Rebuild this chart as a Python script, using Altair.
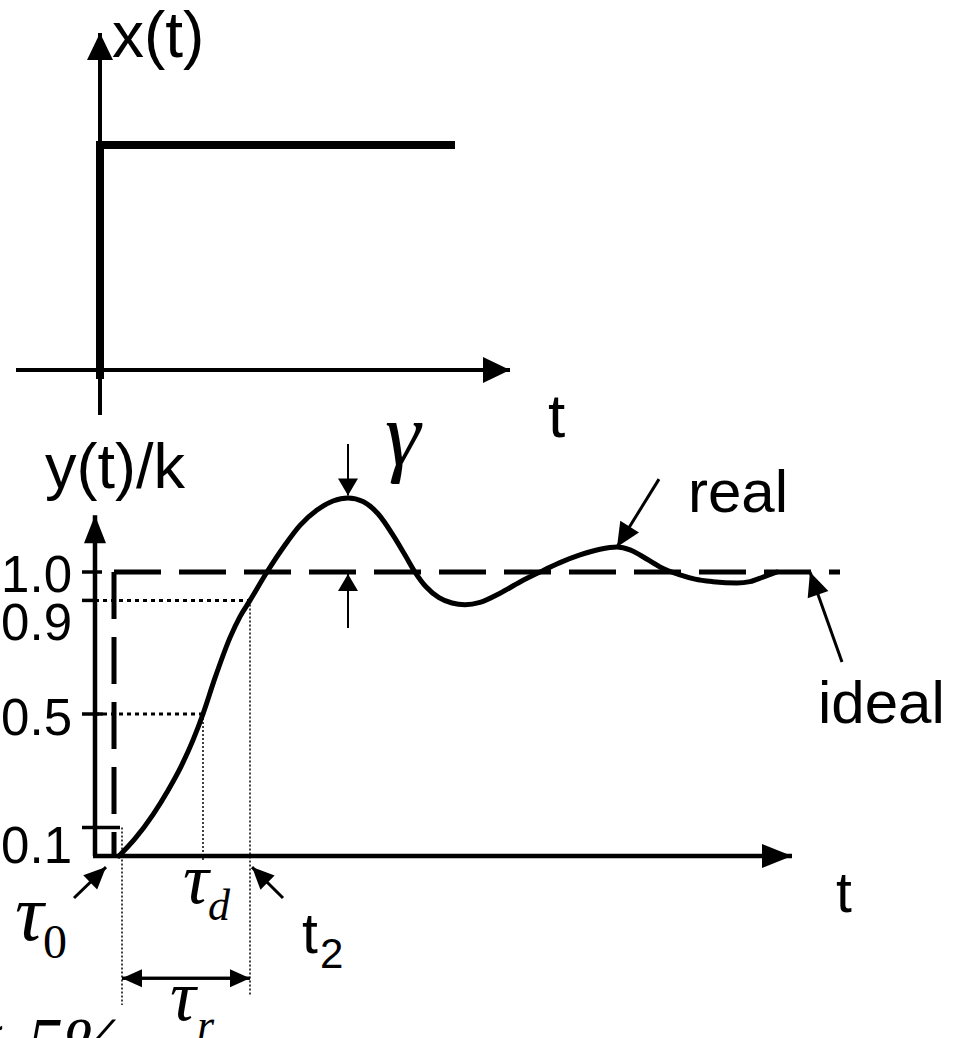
import math
import altair as alt
import pandas as pd

W, H = 954, 1038

# ---------------- upper diagram: input step x(t) ----------------
TOP_T = [-2.0, 17.08]          # time range spanned by the canvas width
TOP_V = [-2.9689, 1.6444]      # x(t) range spanned by the canvas height

step_t = [0.0, 0.0, 7.1]
step_v = [-0.04, 1.0, 1.0]

# ---------------- lower diagram: normalised response y(t)/k ----------------
BOT_T = [-1.9, 17.18]
BOT_V = [-0.6408, 3.0141]

real_t = [0.48, 0.80, 1.16, 1.46, 1.72, 1.96, 2.16, 2.40, 2.70, 2.90, 3.10,
          3.44, 3.80, 4.10, 4.44, 4.76, 5.06, 5.36, 5.66, 5.96, 6.20, 6.40,
          6.62, 6.88, 7.14, 7.40, 7.70, 8.10, 8.50, 8.90, 9.30, 9.70, 10.10,
          10.44, 10.70, 10.90, 11.30, 11.70, 12.00, 12.36, 12.84, 13.10,
          13.36, 13.64]
real_v = [0.00, 0.061, 0.146, 0.231, 0.315, 0.408, 0.50, 0.627, 0.769, 0.843,
          0.90, 1.00, 1.095, 1.164, 1.218, 1.25, 1.261, 1.248, 1.205, 1.13,
          1.06, 1.00, 0.948, 0.91, 0.891, 0.885, 0.893, 0.925, 0.965, 1.00,
          1.033, 1.06, 1.08, 1.088, 1.078, 1.06, 1.018, 0.99, 0.975, 0.966,
          0.961, 0.966, 0.982, 1.00]

ideal_start = 0.38    # instant of the ideal step
ideal_end = 14.9

tick_values = [0.1, 0.5, 0.9, 1.0]
tick_labels = ["0.1", "0.5", "0.9", "1.0"]

tau0 = 0.54     # 10 % point
tau_d = 2.16    # 50 % point
t2 = 3.10       # 90 % point
peak_t, peak_v = 5.06, 1.261

PX_T = W / (TOP_T[1] - TOP_T[0])
PX_V = {"top": H / (TOP_V[1] - TOP_V[0]), "bot": H / (BOT_V[1] - BOT_V[0])}


def scales(panel):
    dom_t, dom_v = (TOP_T, TOP_V) if panel == "top" else (BOT_T, BOT_V)
    return (alt.Scale(domain=dom_t, nice=False, zero=False),
            alt.Scale(domain=dom_v, nice=False, zero=False))


def segments(rows, panel, width, dash=None, cap="butt"):
    df = pd.DataFrame(rows, columns=["t0", "v0", "t1", "v1"])
    sx, sy = scales(panel)
    kw = dict(color="black", strokeWidth=width, strokeCap=cap)
    if dash:
        kw["strokeDash"] = dash
    return alt.Chart(df).mark_rule(**kw).encode(
        x=alt.X("t0:Q", scale=sx, axis=None), x2="t1:Q",
        y=alt.Y("v0:Q", scale=sy, axis=None), y2="v1:Q")


def heads(rows, panel, length, half):
    """Filled arrowheads whose tip sits on (t1, v1), pointing away from (t0, v0)."""
    recs = []
    for t0, v0, t1, v1 in rows:
        dx = (t1 - t0) * PX_T
        dy = -(v1 - v0) * PX_V[panel]
        recs.append({"t": t1, "v": v1,
                     "ang": math.degrees(math.atan2(dx, -dy)) % 360})
    w = half / length
    shape = f"M0,0L{-w:.3f},1L{w:.3f},1Z"
    sx, sy = scales(panel)
    return alt.Chart(pd.DataFrame(recs)).mark_point(
        shape=shape, filled=True, size=(2 * length) ** 2, color="black",
        opacity=1, strokeWidth=0).encode(
        x=alt.X("t:Q", scale=sx, axis=None),
        y=alt.Y("v:Q", scale=sy, axis=None),
        angle=alt.Angle("ang:Q", scale=None))


def arrows(rows, panel, width, length, half):
    return [segments(rows, panel, width), heads(rows, panel, length, half)]


def labels(texts, ts, vs, panel, size, font="Liberation Sans",
           style="normal", align="left"):
    df = pd.DataFrame({"txt": texts, "t": ts, "v": vs})
    sx, sy = scales(panel)
    return alt.Chart(df).mark_text(
        font=font, fontSize=size, fontStyle=style, align=align,
        baseline="alphabetic", color="black").encode(
        x=alt.X("t:Q", scale=sx, axis=None),
        y=alt.Y("v:Q", scale=sy, axis=None),
        text="txt:N")


layers = []

# ---- upper diagram ----
layers += arrows([(-1.68, 0, 8.2, 0), (0, -0.2, 0, 1.498)], "top", 4, 27, 13)
sx, sy = scales("top")
layers.append(alt.Chart(pd.DataFrame({"t": step_t, "v": step_v, "i": range(3)}))
              .mark_line(color="black", strokeWidth=8, strokeJoin="miter")
              .encode(x=alt.X("t:Q", scale=sx, axis=None),
                      y=alt.Y("v:Q", scale=sy, axis=None), order="i:O"))
layers.append(labels(["x(t)"], [0.24], [1.391], "top", 64))
layers.append(labels(["t"], [8.96], [-0.298], "top", 62))

# ---- lower diagram ----
# axes with arrows
layers += arrows([(-0.04, 0, 13.94, 0)], "bot", 4.5, 30, 12)
layers += arrows([(0, 0, 0, 1.2)], "bot", 4.5, 28, 11)

# tick marks at the labelled levels
TICK_REACH = {0.1: 0.5, 0.5: 0.16, 0.9: 0.0, 1.0: 0.14}
layers.append(segments([(-0.26, v, TICK_REACH[v], v) for v in tick_values],
                       "bot", 3.5))
TICK_DY = {0.1: 35, 0.5: 21, 0.9: 40, 1.0: 20}
for v, lab in zip(tick_values, tick_labels):
    sx, sy = scales("bot")
    layers.append(alt.Chart(pd.DataFrame({"txt": [lab], "t": [-0.46], "v": [v]}))
                  .mark_text(font="Liberation Sans", fontSize=51, align="right",
                             baseline="alphabetic", dy=TICK_DY[v], color="black")
                  .encode(x=alt.X("t:Q", scale=sx, axis=None),
                          y=alt.Y("v:Q", scale=sy, axis=None), text="txt:N"))

# dotted construction lines for 50 % and 90 %
layers.append(segments([(0, 0.9, t2, 0.9), (0, 0.5, tau_d, 0.5)], "bot", 3,
                       dash=[4, 4]))
layers.append(segments([(t2, 0.9, t2, -0.489), (tau_d, 0.5, tau_d, -0.021),
                        (tau0, 0.1, tau0, -0.525)], "bot", 1.5, dash=[2, 2]))

# ideal step response (dashed)
layers.append(segments([(ideal_start, 1.0, ideal_start, 0.0),
                        (ideal_start, 1.0, ideal_end, 1.0)], "bot", 5,
                       dash=[47, 18]))

# real response
sx, sy = scales("bot")
layers.append(alt.Chart(pd.DataFrame({"t": real_t, "v": real_v}))
              .mark_line(color="black", strokeWidth=5, interpolate="monotone",
                         strokeCap="round")
              .encode(x=alt.X("t:Q", scale=sx, axis=None),
                      y=alt.Y("v:Q", scale=sy, axis=None)))

# annotation arrows
layers += arrows([(-0.42, -0.148, 0.22, -0.039), (3.76, -0.148, 3.14, -0.039)],
                 "bot", 3, 22, 10)
layers += arrows([(11.28, 1.327, 10.44, 1.088), (14.94, 0.683, 14.30, 1.0)],
                 "bot", 3, 24, 11)
layers += arrows([(peak_t, 1.451, peak_t, peak_v + 0.008),
                  (peak_t, 0.803, peak_t, 0.993)], "bot", 2, 17, 10)
layers += arrows([(t2, -0.43, tau0, -0.43), (tau0, -0.43, t2, -0.43)],
                 "bot", 3, 20, 9)

# text
layers.append(labels(["y(t)/k"], [-1.0], [1.296], "bot", 63))
layers.append(labels(["real", "ideal"], [11.86, 14.46], [1.211, 0.468], "bot", 60))
layers.append(labels(["t", "t"], [14.82, 4.14], [-0.197, -0.342], "bot", 57))
layers.append(labels(["2"], [4.5], [-0.394], "bot", 42))
SERIF = "Liberation Serif"
layers.append(labels(["γ"], [5.8], [1.377], "bot", 90, SERIF, "italic"))
layers.append(labels(["τ"], [-1.6], [-0.296], "bot", 80, SERIF, "italic"))
layers.append(labels(["τ", "τ"], [1.76, 1.5], [-0.165, -0.577], "bot", 72,
                     SERIF, "italic"))
layers.append(labels(["0"], [-1.04], [-0.359], "bot", 48, SERIF))
layers.append(labels(["d", "r"], [2.26, 2.04], [-0.225, -0.648], "bot", 44,
                     SERIF, "italic"))
layers.append(labels(["< 5%"], [0.56], [-0.743], "bot", 72, SERIF, "italic",
                     align="right"))

chart = (alt.layer(*layers)
         .resolve_scale(x="independent", y="independent")
         .properties(width=W, height=H, padding=0, autosize="none",
                     background="white")
         .configure_view(stroke=None))

chart.save("out.html", embed_options={"renderer": "svg", "actions": False})
